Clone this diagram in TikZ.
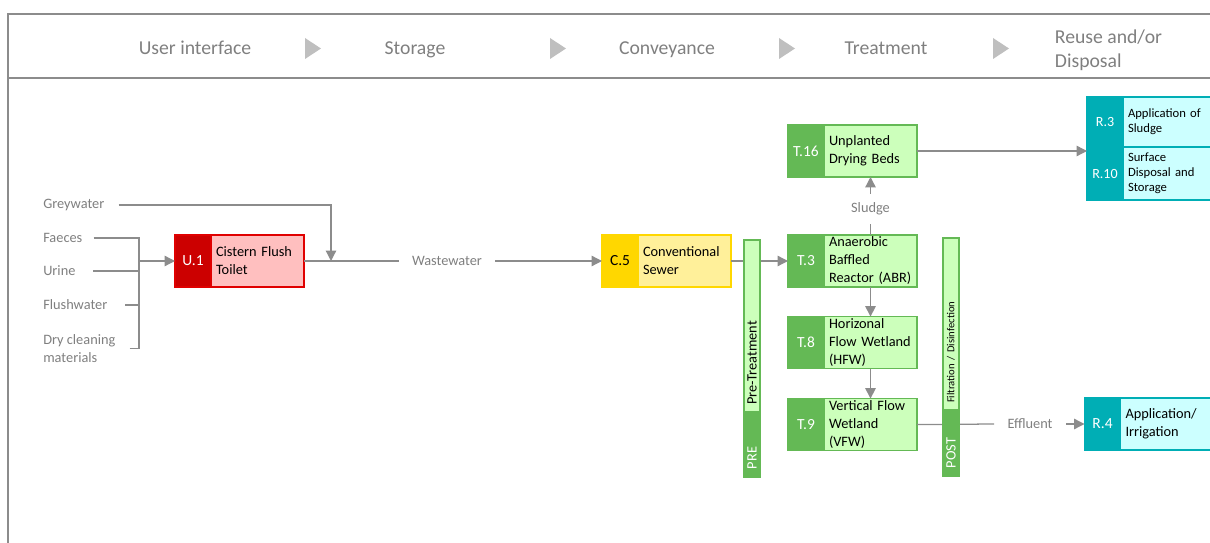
\documentclass[tikz,border=0pt]{standalone}
\usepackage{fontspec}
\setmainfont{Carlito}
\usepackage{xcolor}
\definecolor{cRed}{HTML}{CC0000}
\definecolor{cRedLight}{HTML}{FFBFBF}
\definecolor{cRedLine}{HTML}{E00000}
\definecolor{cGold}{HTML}{FFD700}
\definecolor{cGoldLight}{HTML}{FFF09A}
\definecolor{cGreen}{HTML}{64B955}
\definecolor{cGreenLight}{HTML}{CCFFBB}
\definecolor{cTeal}{HTML}{00AEB5}
\definecolor{cTealLight}{HTML}{CCFFFF}
\definecolor{cLine}{HTML}{8C8C8C}
\definecolor{cText}{HTML}{7F7F7F}
\definecolor{cHead}{HTML}{BFBFBF}
\usepackage{tikz}
\usetikzlibrary{positioning,arrows.meta,calc}
\tikzset{
  head-label/.style={text=cText,font=\fontsize{14}{17}\selectfont,align=left},
  src-label/.style={text=cText,font=\fontsize{10.2}{13}\selectfont,align=left,inner sep=0pt},
  flow-label/.style={text=cText,font=\fontsize{10.2}{13}\selectfont,inner xsep=3.3mm,inner ysep=2.2mm},
  % technology box = code column + text column
  tech-code/.style={minimum width=9mm,minimum height=13mm,inner sep=0pt,outer sep=0pt,
    line width=0.8pt,text=white,font=\fontsize{11}{13}\selectfont},
  tech-text/.style={minimum width=23.25mm,minimum height=13mm,text width=20.75mm,
    inner xsep=1.25mm,inner ysep=0pt,outer sep=0pt,align=left,line width=0.8pt,
    font=\fontsize{10.2}{12.8}\selectfont},
  code-red/.style={tech-code,fill=cRed,draw=cRedLine},
  text-red/.style={tech-text,fill=cRedLight,draw=cRedLine},
  code-gold/.style={tech-code,fill=cGold,draw=cGold,text=black},
  text-gold/.style={tech-text,fill=cGoldLight,draw=cGold},
  code-green/.style={tech-code,fill=cGreen,draw=cGreen},
  text-green/.style={tech-text,fill=cGreenLight,draw=cGreen},
  code-teal/.style={tech-code,fill=cTeal,draw=cTeal},
  text-teal/.style={tech-text,fill=cTealLight,draw=cTeal,minimum width=26mm,text width=23.5mm},
  bar-light/.style={rotate=90,fill=cGreenLight,draw=cGreen,line width=0.8pt,outer sep=0pt,
    minimum height=4mm,inner ysep=0pt,inner xsep=1.75mm,align=left,
    font=\fontsize{10.2}{12}\selectfont},
  bar-dark/.style={bar-light,fill=cGreen,text=white,inner xsep=2mm},
  flow-line/.style={draw=cLine,line width=0.9pt},
  flow-arrow/.style={flow-line,-{Triangle[length=2.6mm,width=2.6mm]}},
  frame-line/.style={draw=cLine,line width=1pt},
}

\begin{document}
\begin{tikzpicture}[x=0.25mm,y=-0.25mm]
  \useasboundingbox (0,0) rectangle (1210,543);
  \clip (0,0) rectangle (1210,543);

  % header
  \draw[frame-line] (1210,14) -| (8,543);
  \draw[frame-line] (8,78) -- (1210,78);
  \foreach \x in {305,550,779,993}
    \fill[cHead] (\x,38) -- (\x+16,48.5) -- (\x,59) -- cycle;
  \node[head-label,anchor=base] (h-user)  at (195,54.5) {User interface};
  \node[head-label,anchor=base] (h-store) at (415,54.5) {Storage};
  \node[head-label,anchor=base] (h-conv)  at (667,54.5) {Conveyance};
  \node[head-label,anchor=base] (h-treat) at (886,54.5) {Treatment};
  \node[head-label,anchor=west] (h-reuse) at (1050,50.5) {Reuse and/or\\Disposal};

  % inputs
  \node[src-label,anchor=west] (grey)   at (43,205)   {Greywater};
  \node[src-label,anchor=west] (faeces) at (43,238)   {Faeces};
  \node[src-label,anchor=west] (urine)  at (43,271)   {Urine};
  \node[src-label,anchor=west] (flush)  at (43,305)   {Flushwater};
  \node[src-label,anchor=west] (dry)    at (43,348.5) {Dry cleaning\\materials};

  % technologies
  \node[code-red]  (u1)  at (193,261) {U.1};
  \node[text-red,right=0pt of u1]   (u1t)  {Cistern Flush\\Toilet};
  \node[code-gold] (c5)  at (620,261) {C.5};
  \node[text-gold,right=0pt of c5]  (c5t)  {Conventional\\Sewer};
  \node[code-green] (t3) at (806,261) {T.3};
  \node[text-green,right=0pt of t3] (t3t)  {Anaerobic\\Baffled\\Reactor (ABR)};
  \node[code-green,above=14.5mm of t3] (t16) {T.16};
  \node[text-green,right=0pt of t16] (t16t) {Unplanted\\Drying Beds};
  \node[code-green,below=7.4mm of t3] (t8) {T.8};
  \node[text-green,right=0pt of t8]  (t8t)  {Horizonal\\Flow Wetland\\(HFW)};
  \node[code-green,below=7.5mm of t8] (t9) {T.9};
  \node[text-green,right=0pt of t9]  (t9t)  {Vertical Flow\\Wetland\\(VFW)};
  \node[code-teal,minimum height=12.5mm,font=\fontsize{10}{12}\selectfont] (r3) at (1105,122) {R.3};
  \node[text-teal,minimum height=12.5mm,right=0pt of r3,font=\fontsize{9}{10.7}\selectfont] (r3t) {Application of\\Sludge};
  \node[code-teal,minimum height=13.25mm,below=0pt of r3,font=\fontsize{10}{12}\selectfont] (r10) {R.10};
  \node[text-teal,minimum height=13.25mm,right=0pt of r10,font=\fontsize{9}{10.7}\selectfont] (r10t) {Surface\\Disposal and\\Storage};
  \node[code-teal] (r4) at (1102.5,424) {R.4};
  \node[text-teal,right=0pt of r4] (r4t) {Application/\\Irrigation};

  % flows
  \coordinate (brk) at (139,261);
  \draw[flow-line,shorten <=2.75mm] (faeces.east) -| (brk);
  \draw[flow-line,shorten <=4.4mm] (urine.east) -| (brk);
  \draw[flow-line,shorten <=4.4mm] (flush.east) -| (brk);
  \draw[flow-line,shorten <=3.5mm] (dry.east) -| (brk);
  \draw[flow-arrow] (brk) -- (u1.west);
  \coordinate (ww-in) at ($(u1t.east)+(27,0)$);
  \draw[flow-arrow,shorten <=3.5mm] (grey.east) -| (ww-in);
  \node[flow-label] (ww) at (447,261) {Wastewater};
  \draw[flow-line] (u1t.east) -- (ww.west);
  \draw[flow-arrow] (ww.east) -- (c5.west);
  \draw[flow-arrow] (c5t.east) -- (t3.west);
  \node[flow-label] (sludge) at ($(t3t.north)+(0,-26)$) {Sludge};
  \draw[flow-line] (t3t.north) -- (sludge.south);
  \draw[flow-arrow] (sludge.north) -- (t16t.south);
  \draw[flow-arrow] (t3t.south) -- (t8t.north);
  \draw[flow-arrow] (t8t.south) -- (t9t.north);
  \draw[flow-arrow] (t16t.east) -- (t16t.east -| r3.west);
  \node[flow-label] (eff) at (1030,424) {Effluent};
  \draw[flow-line] (t9t.east) -- (eff.west);
  \draw[flow-arrow] (eff.east) -- (r4.west);

  % pre / post treatment bars
  \node[bar-light,anchor=west,minimum width=43mm,text width=39.5mm] (pre-top) at (752,412) {Pre-Treatment};
  \node[bar-dark,anchor=east,minimum width=16.25mm,text width=12.25mm] (pre-bot) at (pre-top.west) {PRE};
  \node[bar-light,anchor=west,minimum width=43mm,text width=39.5mm,font=\fontsize{7.6}{9}\selectfont] (post-top) at (951,410) {Filtration / Disinfection};
  \node[bar-dark,anchor=east,minimum width=16.5mm,text width=12.5mm] (post-bot) at (post-top.west) {POST};
\end{tikzpicture}
\end{document}
